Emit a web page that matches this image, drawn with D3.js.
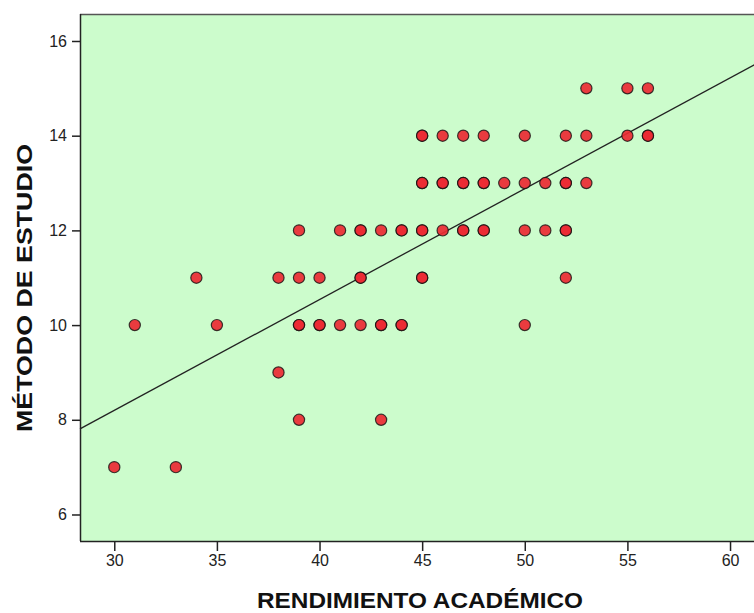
<!DOCTYPE html>
<html><head><meta charset="utf-8">
<script src="https://cdn.jsdelivr.net/npm/d3@7"></script>
<style>body{margin:0;background:#fff}svg{display:block}</style>
</head><body><div id="chart"></div>
<script>
// Data: RENDIMIENTO ACADÉMICO (x) vs MÉTODO DE ESTUDIO (y)
const rendimiento = [53,55,56,
  45,45,46,47,48,50,52,53,55,56,56,
  45,45,46,46,47,47,48,48,49,50,51,52,52,53,
  39,41,42,42,43,44,44,45,45,46,47,47,48,48,50,51,52,52,
  34,38,39,40,42,42,45,45,52,
  31,35,39,39,40,40,41,42,43,43,44,44,50,
  38,
  39,43,
  30,33];
const metodo = [15,15,15,
  14,14,14,14,14,14,14,14,14,14,14,
  13,13,13,13,13,13,13,13,13,13,13,13,13,13,
  12,12,12,12,12,12,12,12,12,12,12,12,12,12,12,12,12,12,
  11,11,11,11,11,11,11,11,11,
  10,10,10,10,10,10,10,10,10,10,10,10,10,
  9,
  8,8,
  7,7];
const xTicks = [30,35,40,45,50,55,60];
const yTicks = [6,8,10,12,14,16];
const fitIntercept = [1.18];
const fitSlope = [0.234];
const xDomain = [28.33, 61.46];
const yDomain = [5.44, 16.57];

const W = 754, H = 613;
const L = 80, T = 14, R = 760, B = 541;
const svg = d3.select("#chart").append("svg").attr("width", W).attr("height", H);
const x = d3.scaleLinear().domain(xDomain).range([L, R]);
const y = d3.scaleLinear().domain(yDomain).range([B, T]);

svg.append("rect").attr("x", L).attr("y", T).attr("width", R - L).attr("height", B - T)
  .attr("fill", "#ccfccc").attr("stroke", "none");
svg.append("line").attr("x1", L).attr("x2", R).attr("y1", T + 0.5).attr("y2", T + 0.5).attr("stroke", "#555").attr("stroke-width", 1.5);

const font = "Arial, 'Liberation Sans', sans-serif";
const xAxis = svg.append("g").attr("transform", `translate(0,${B})`)
  .call(d3.axisBottom(x).tickValues(xTicks).tickSize(10).tickPadding(4).tickFormat(d3.format("d")));
const yAxis = svg.append("g").attr("transform", `translate(${L},0)`)
  .call(d3.axisLeft(y).tickValues(yTicks).tickSize(8).tickPadding(5).tickFormat(d3.format("d")));
[xAxis, yAxis].forEach(g => {
  g.select(".domain").attr("stroke", "#222").attr("stroke-width", 1.5);
  g.selectAll(".tick line").attr("stroke", "#222").attr("stroke-width", 1.5);
  g.selectAll(".tick text").attr("fill", "#222").style("font-family", font).style("font-size", "16px");
});
xAxis.select(".domain").attr("d", `M${L},0.5H${R}`);
yAxis.select(".domain").attr("d", `M0.5,${B}V${T}`);

// fit line
const lx = xDomain;
svg.append("line")
  .attr("x1", x(lx[0])).attr("y1", y(fitIntercept[0] + fitSlope[0] * lx[0]))
  .attr("x2", x(lx[1])).attr("y2", y(fitIntercept[0] + fitSlope[0] * lx[1]))
  .attr("stroke", "#222").attr("stroke-width", 1.3);

// points
svg.append("g").selectAll("circle").data(rendimiento.map((v, i) => [v, metodo[i]]))
  .join("circle")
  .attr("cx", d => x(d[0])).attr("cy", d => y(d[1])).attr("r", 5.6)
  .attr("fill", "#ec2a33").attr("fill-opacity", 0.92)
  .attr("stroke", "#111").attr("stroke-opacity", 0.8).attr("stroke-width", 1.2);

svg.append("text").attr("x", 420).attr("y", 607.5).attr("text-anchor", "middle")
  .attr("textLength", 326).attr("lengthAdjust", "spacingAndGlyphs")
  .style("font-family", font).style("font-weight", "bold").style("font-size", "22.5px").attr("fill", "#111")
  .text("RENDIMIENTO ACADÉMICO");
svg.append("text").attr("transform", "translate(31.5,288) rotate(-90)").attr("text-anchor", "middle")
  .attr("textLength", 288).attr("lengthAdjust", "spacingAndGlyphs")
  .style("font-family", font).style("font-weight", "bold").style("font-size", "22.5px").attr("fill", "#111")
  .text("MÉTODO DE ESTUDIO");
</script></body></html>
